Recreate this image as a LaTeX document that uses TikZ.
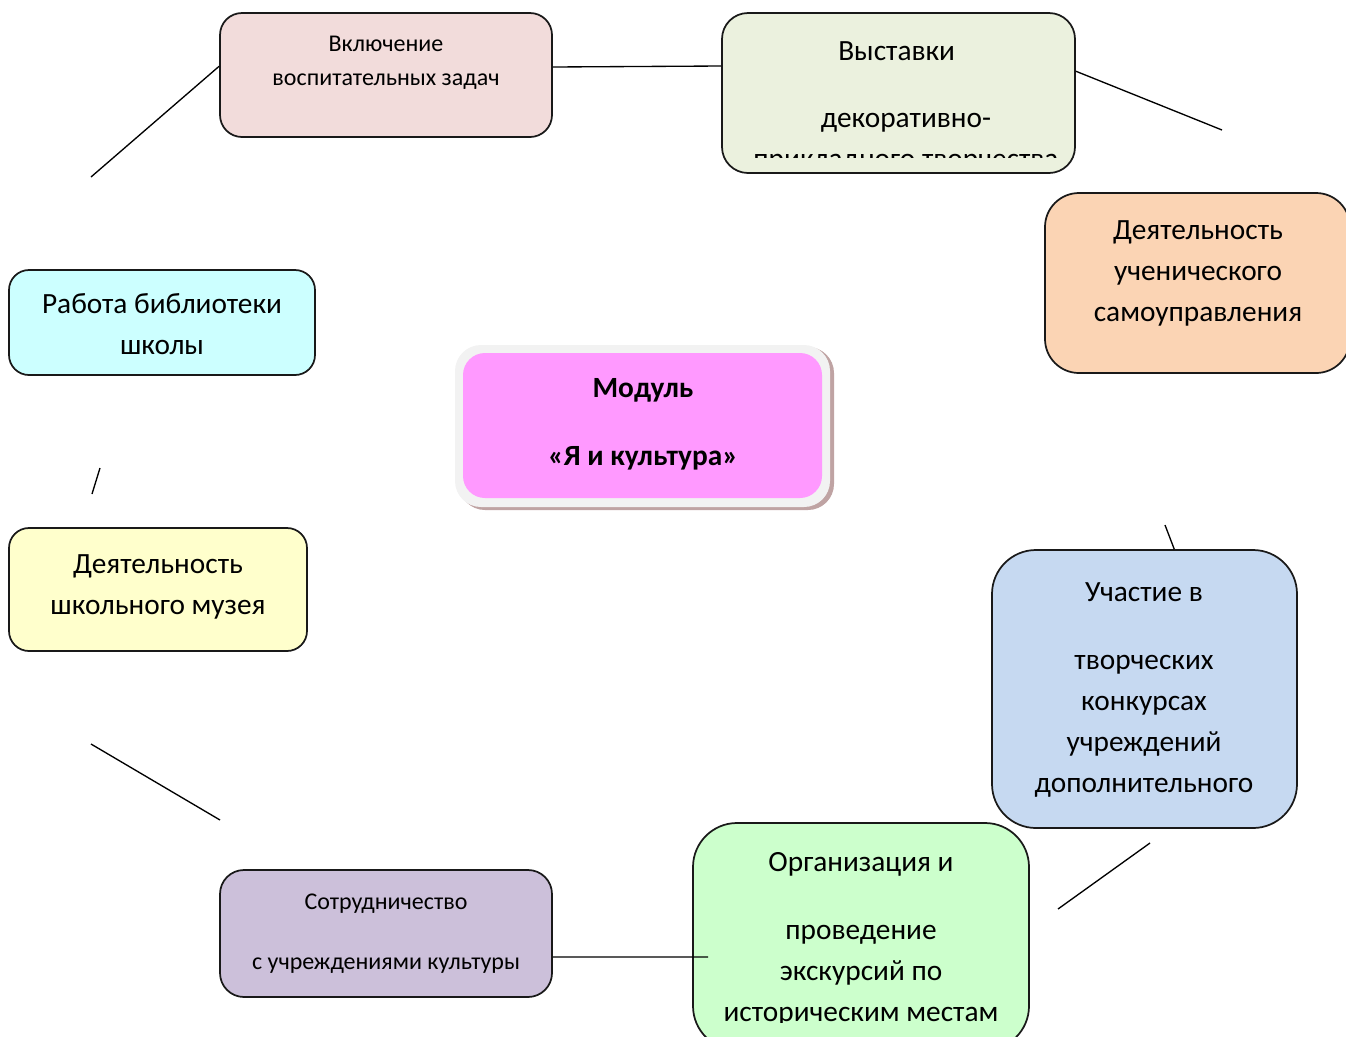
\documentclass[tikz,border=0pt]{standalone}
\usepackage{fontspec}
\setmainfont{Carlito}
\definecolor{cA}{HTML}{F2DCDB}
\definecolor{cB}{HTML}{EBF1DE}
\definecolor{cC}{HTML}{FBD4B4}
\definecolor{cD}{HTML}{CCFFFF}
\definecolor{cM}{HTML}{FF99FF}
\definecolor{cE}{HTML}{FFFFCC}
\definecolor{cF}{HTML}{C6D9F1}
\definecolor{cG}{HTML}{CCC0DA}
\definecolor{cH}{HTML}{CCFFCC}
\definecolor{cRim}{HTML}{F2F2F2}
\definecolor{cShadow}{HTML}{BFA3A3}
\newcommand\fl{\rule{0pt}{18pt}}
\newcommand\bigtxt{\fontsize{22}{30.75}\selectfont}
\newcommand\smalltxt{\fontsize{18}{25.5}\selectfont}
\tikzset{
  box/.style n args={3}{draw=black!90, line width=1.3pt, rectangle,
    minimum width=#1*0.75pt, minimum height=#2*0.75pt,
    rounded corners=#3*0.75pt, inner sep=0pt},
  lbl/.style={anchor=north, inner sep=0pt, align=center, text=black, font=\bigtxt},
  lblsmall/.style={lbl, font=\smalltxt},
  conn/.style={line width=1pt, black}
}
\begin{document}
\begin{tikzpicture}[x=0.75pt,y=-0.75pt]
\useasboundingbox (0,0) rectangle (1346,1036);

% boxes
\node[box={332}{124}{22}, fill=cA] (b1) at (386,75) {};
\node[lblsmall] (t1) at (386,27) {\fl Включение\\воспитательных задач};

\node[box={353}{160}{26}, fill=cB] (b2) at (898.5,93) {};
\begin{scope}
\clip (722,13) rectangle (1075,157);
\node[lbl] (t2) at (906,36) {\fl Выставки\hspace*{14pt}\\[19.5pt]декоративно-\\прикладного творчества};
\end{scope}

\node[box={305}{180}{34}, fill=cC] (b3) at (1197.5,283) {};
\node[lbl] (t3) at (1198,215) {\fl Деятельность\\ученического\\самоуправления};

\node[box={306}{105}{20}, fill=cD] (b4) at (162,322.5) {};
\node[lbl] (t4) at (162,289) {\fl Работа библиотеки\\школы};

% central module
\node[box={375}{163}{26}, draw=none, fill=cShadow] (modsh) at (646.5,428.5) {};
\node[box={375}{162}{26}, draw=none, fill=cRim] (modrim) at (642.5,426) {};
\node[box={359}{145}{22}, draw=none, fill=cM] (mod) at (642.5,425.5) {};
\node[lbl, font=\bigtxt\bfseries] (tm) at (643,373) {\fl Модуль\\[20.25pt]«Я и культура»};

\node[box={298}{123}{20}, fill=cE] (b5) at (158,589.5) {};
\node[lbl] (t5) at (158,549) {\fl Деятельность\\школьного музея};

\node[box={305}{278}{44}, fill=cF] (b6) at (1144.5,689) {};
\begin{scope}
\clip (992,550) rectangle (1297,805);
\node[lbl] (t6) at (1144,577) {\fl Участие в\\[20.25pt]творческих\\конкурсах\\учреждений\\дополнительного\\образования};
\end{scope}

\node[box={332}{127}{24}, fill=cG] (b7) at (386,933.5) {};
\node[lblsmall] (t7) at (386,885) {\fl Сотрудничество\\[19.5pt]с учреждениями культуры};

\node[box={336}{227}{44}, fill=cH] (b8) at (861,936.5) {};
\begin{scope}
\clip (693,823) rectangle (1029,1022);
\node[lbl] (t8) at (861,847) {\fl Организация и\\[20.25pt]проведение\\экскурсий по\\историческим местам};
\end{scope}

% free ends
\coordinate (f1) at (91,177);
\coordinate (f2a) at (552,67);
\coordinate (f2b) at (722,66);
\coordinate (f3) at (1222,130);
\coordinate (f4) at (1165,525);
\coordinate (f5a) at (1150,843);
\coordinate (f5b) at (1058,909);
\coordinate (f6) at (708,957);
\coordinate (f7a) at (91,744);
\coordinate (f7b) at (220,820);
\coordinate (f8a) at (100,468);
\coordinate (f8b) at (92,494);

% connectors
\draw[conn] (b1.177.2) -- (f1);
\draw[conn] (b1.east |- f2a) -- (b2.west |- f2b);
\draw[conn] (b2.7.4) -- (f3);
\draw[conn] (f4) -- (b6.78);
\draw[conn] (f5a) -- (f5b);
\draw[conn] (b7.-8.06) -- (f6);
\draw[conn] (f7a) -- (f7b);
\draw[conn] (f8a) -- (f8b);
\end{tikzpicture}
\end{document}
